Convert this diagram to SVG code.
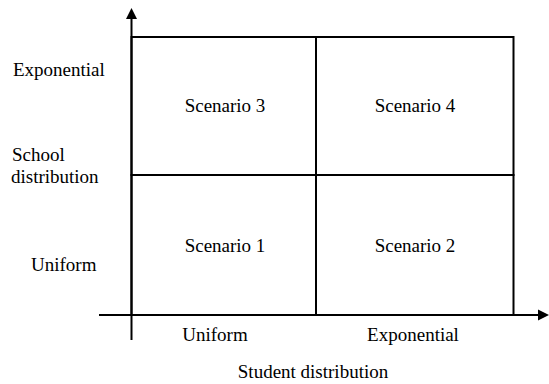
<svg xmlns="http://www.w3.org/2000/svg" width="549" height="384" viewBox="0 0 549 384">
<style>
.t{font-family:'Liberation Serif','Times New Roman',Times,serif;font-size:19px;fill:#000}
.ln{stroke:#000;stroke-width:2;fill:none}
.c{text-anchor:middle}
</style>
<rect width="549" height="384" fill="#fff"/>
<g id="connectors">
<line class="ln" x1="131.5" y1="340" x2="131.5" y2="16"/>
<polygon points="131.5,8 126,19 137,19" fill="#000"/>
<line class="ln" x1="99" y1="315" x2="541" y2="315"/>
<polygon points="549,315 538,309.5 538,320.5" fill="#000"/>
</g>
<g id="scenario3"><rect class="ln" x="131.5" y="37" width="184.5" height="138"/><text class="t c" x="225" y="111.5">Scenario 3</text></g>
<g id="scenario4"><rect class="ln" x="316" y="37" width="197.5" height="138"/><text class="t c" x="415" y="111.5">Scenario 4</text></g>
<g id="scenario1"><rect class="ln" x="131.5" y="175" width="184.5" height="140"/><text class="t c" x="225" y="251.5">Scenario 1</text></g>
<g id="scenario2"><rect class="ln" x="316" y="175" width="197.5" height="140"/><text class="t c" x="415" y="251.5">Scenario 2</text></g>
<g id="labels" font-family="Liberation Serif, serif">
<text class="t" x="13" y="75.5">Exponential</text>
<text class="t" x="12" y="161">School</text>
<text class="t" x="11" y="183">distribution</text>
<text class="t" x="31" y="270.5">Uniform</text>
<text class="t c" x="215" y="341">Uniform</text>
<text class="t c" x="413" y="341">Exponential</text>
<text class="t c" x="313" y="378">Student distribution</text>
</g>
</svg>
